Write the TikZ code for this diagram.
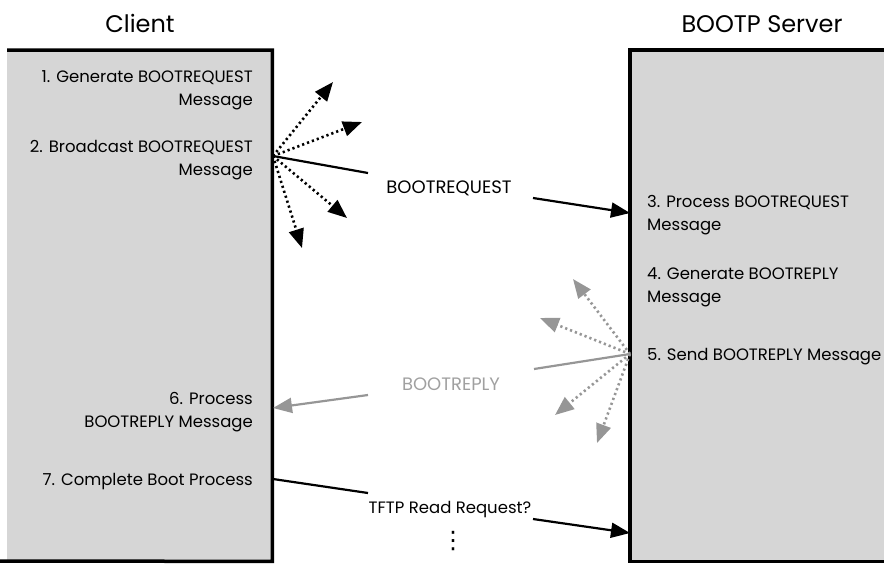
\documentclass[tikz,border=0pt]{standalone}
\usepackage{fontspec}
\setmainfont{Poppins}
\newfontfamily\symfont{DejaVu Sans}
\usetikzlibrary{arrows.meta,positioning}
\definecolor{boxgray}{RGB}{214,214,214}
\definecolor{replygray}{RGB}{150,150,150}
\definecolor{labelgray}{RGB}{160,160,160}

\begin{document}
\begin{tikzpicture}[
  x=1pt, y=-1pt, >={Triangle[length=19pt,width=15pt]},
  titletxt/.style={font=\fontsize{24}{28}\selectfont, inner sep=0pt},
  steptxt/.style={font=\fontsize{16.5}{23}\selectfont, inner sep=0pt},
  msgtxt/.style={font=\fontsize{18}{20}\selectfont, inner sep=0pt},
  hostbox/.style={fill=boxgray, inner sep=0pt, anchor=north west},
  border/.style={line width=3.5pt},
  msgline/.style={line width=2.2pt},
  bcastline/.style={line width=2.6pt, dash pattern=on 2.2pt off 3pt},
  reply/.style={color=replygray},
]
\useasboundingbox (0,0) rectangle (884,563);

% hosts
\node[hostbox, minimum width=265pt, minimum height=511pt] (client) at (7,50) {};
\node[hostbox, minimum width=260pt, minimum height=511pt] (server) at (630,50) {};
\draw[border] (client.north west) -- (client.north east) -- (client.south east) -- (0,561);
\draw[border] (server.north east) -- (server.north west) -- (server.south west) -- (server.south east);

\node[titletxt, anchor=base] (clienttitle) at (140,32) {Client};
\node[titletxt, anchor=base] (servertitle) at (762,32) {BOOTP Server};

% client steps (base = last line)
\node[steptxt, align=right, anchor=base east] (s1) at (253,105) {1. Generate BOOTREQUEST\\Message};
\node[steptxt, align=right, anchor=base east] (s2) at (253,175) {2. Broadcast BOOTREQUEST\\Message};
\node[steptxt, align=right, anchor=base east] (s6) at (253,427) {6. Process\\BOOTREPLY Message};
\node[steptxt, align=right, anchor=base east] (s7) at (253,485) {7. Complete Boot Process};

% server steps
\node[steptxt, align=left, anchor=base west] (s3) at (647,230) {3. Process BOOTREQUEST\\Message};
\node[steptxt, align=left, anchor=base west] (s4) at (647,302) {4. Generate BOOTREPLY\\Message};
\node[steptxt, align=left, anchor=base west] (s5) at (647,360) {5. Send BOOTREPLY Message};

% message labels
\node[msgtxt, anchor=base] (reqlbl) at (449,193) {BOOTREQUEST};
\node[msgtxt, anchor=base, text=labelgray] (replbl) at (451,390) {BOOTREPLY};
\node[msgtxt, font=\fontsize{16.5}{20}\selectfont, anchor=base] (tftplbl) at (450,513) {TFTP Read Request?};
\node[font=\symfont\fontsize{24}{26}\selectfont, inner sep=0pt] (more) at (453,541) {⋮};

% broadcast of the request
\coordinate (bcast) at (273,156);
\coordinate (b1) at (333,82);
\coordinate (b2) at (362,122);
\coordinate (b3) at (347,218);
\coordinate (b4) at (302,248);
\coordinate (reqend) at (368,173);
\coordinate (reqstart) at (533,198);
\coordinate (reqin) at (630,213);
\foreach \t in {b1,b2,b3,b4}
  \draw[bcastline, ->] (bcast) -- (\t);
\draw[msgline] (bcast) -- (reqend);
\draw[msgline, ->] (reqstart) -- (reqin);

% broadcast of the reply
\coordinate (rcast) at (630,354);
\coordinate (r1) at (573,279);
\coordinate (r2) at (540,318);
\coordinate (r3) at (555,415);
\coordinate (r4) at (597,443);
\coordinate (repend) at (534,369);
\coordinate (repstart) at (368,395);
\coordinate (repin) at (273,408);
\foreach \t in {r1,r2,r3,r4}
  \draw[bcastline, reply, ->] (rcast) -- (\t);
\draw[msgline, reply] (rcast) -- (repend);
\draw[msgline, reply, ->] (repstart) -- (repin);

% tftp
\coordinate (tftpout) at (273,479);
\coordinate (tftpend) at (368,493);
\coordinate (tftpstart) at (533,519);
\coordinate (tftpin) at (630,533);
\draw[msgline] (tftpout) -- (tftpend);
\draw[msgline, ->] (tftpstart) -- (tftpin);
\end{tikzpicture}
\end{document}
